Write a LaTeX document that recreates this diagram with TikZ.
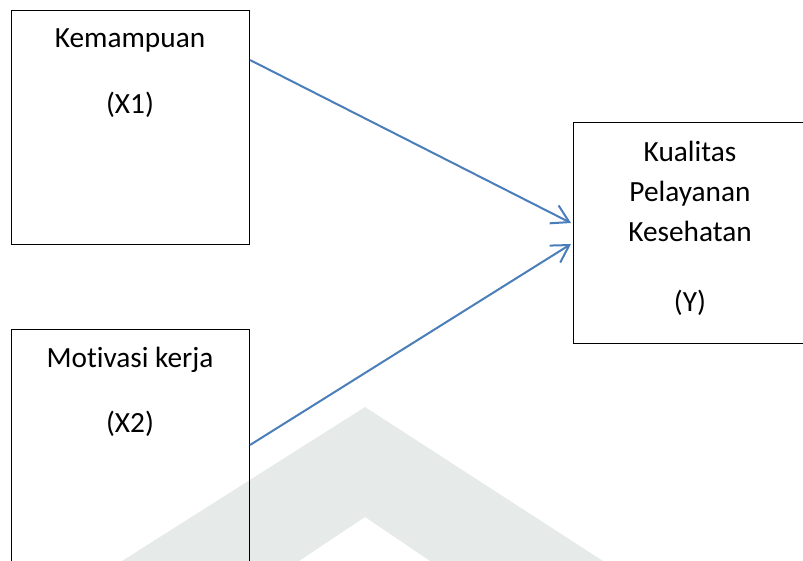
\documentclass[tikz,border=0pt]{standalone}
\usepackage{fontspec}
\setmainfont[Ligatures=NoCommon]{Carlito}
\usetikzlibrary{arrows.meta,calc}
\definecolor{arrowblue}{RGB}{74,126,187}
\definecolor{wmark}{RGB}{230,235,233}
\begin{document}
\begin{tikzpicture}[x=1pt,y=-1pt,
  box/.style={draw=black,line width=1pt,inner sep=0pt,anchor=north west},
  lbl/.style={anchor=base,inner sep=0pt,font=\fontsize{29.3}{35}\selectfont},
  conn/.style={draw=arrowblue,line width=2pt,-{Straight Barb[length=17pt,width=20pt]}}]
\useasboundingbox (0,0) rectangle (803,561);
\clip (0,0) rectangle (803,561);
% watermark
\fill[wmark] (122,561) -- (365,407) -- (603,561) -- (430,561) -- (365,517) -- (299,561) -- cycle;
% boxes
\node[box,minimum width=238pt,minimum height=234pt] (b1) at (11,10) {};
\node[box,minimum width=238pt,minimum height=250pt] (b2) at (11,329) {};
\node[box,minimum width=234pt,minimum height=221pt] (by) at (573,122) {};
% texts
\node[lbl] (k1) at (130,48) {Kemampuan};
\node[lbl] (k2) at (130,114) {(X1)};
\node[lbl] (m1) at (130,367) {Motivasi kerja};
\node[lbl] (m2) at (130,432) {(X2)};
\node[lbl] (y1) at (690,162) {Kualitas};
\node[lbl] (y2) at (690,202) {Pelayanan};
\node[lbl] (y3) at (690,242) {Kesehatan};
\node[lbl] (y4) at (690,312) {(Y)};
% connectors
\coordinate (s1) at ($(b1.north east)+(0,50)$);
\coordinate (s2) at ($(b2.north east)+(0,116)$);
\coordinate (e1) at ($(by.north west)+(-2,101)$);
\coordinate (e2) at ($(by.north west)+(-2,122)$);
\draw[conn] (s1) -- (e1);
\draw[conn] (s2) -- (e2);
\end{tikzpicture}
\end{document}
